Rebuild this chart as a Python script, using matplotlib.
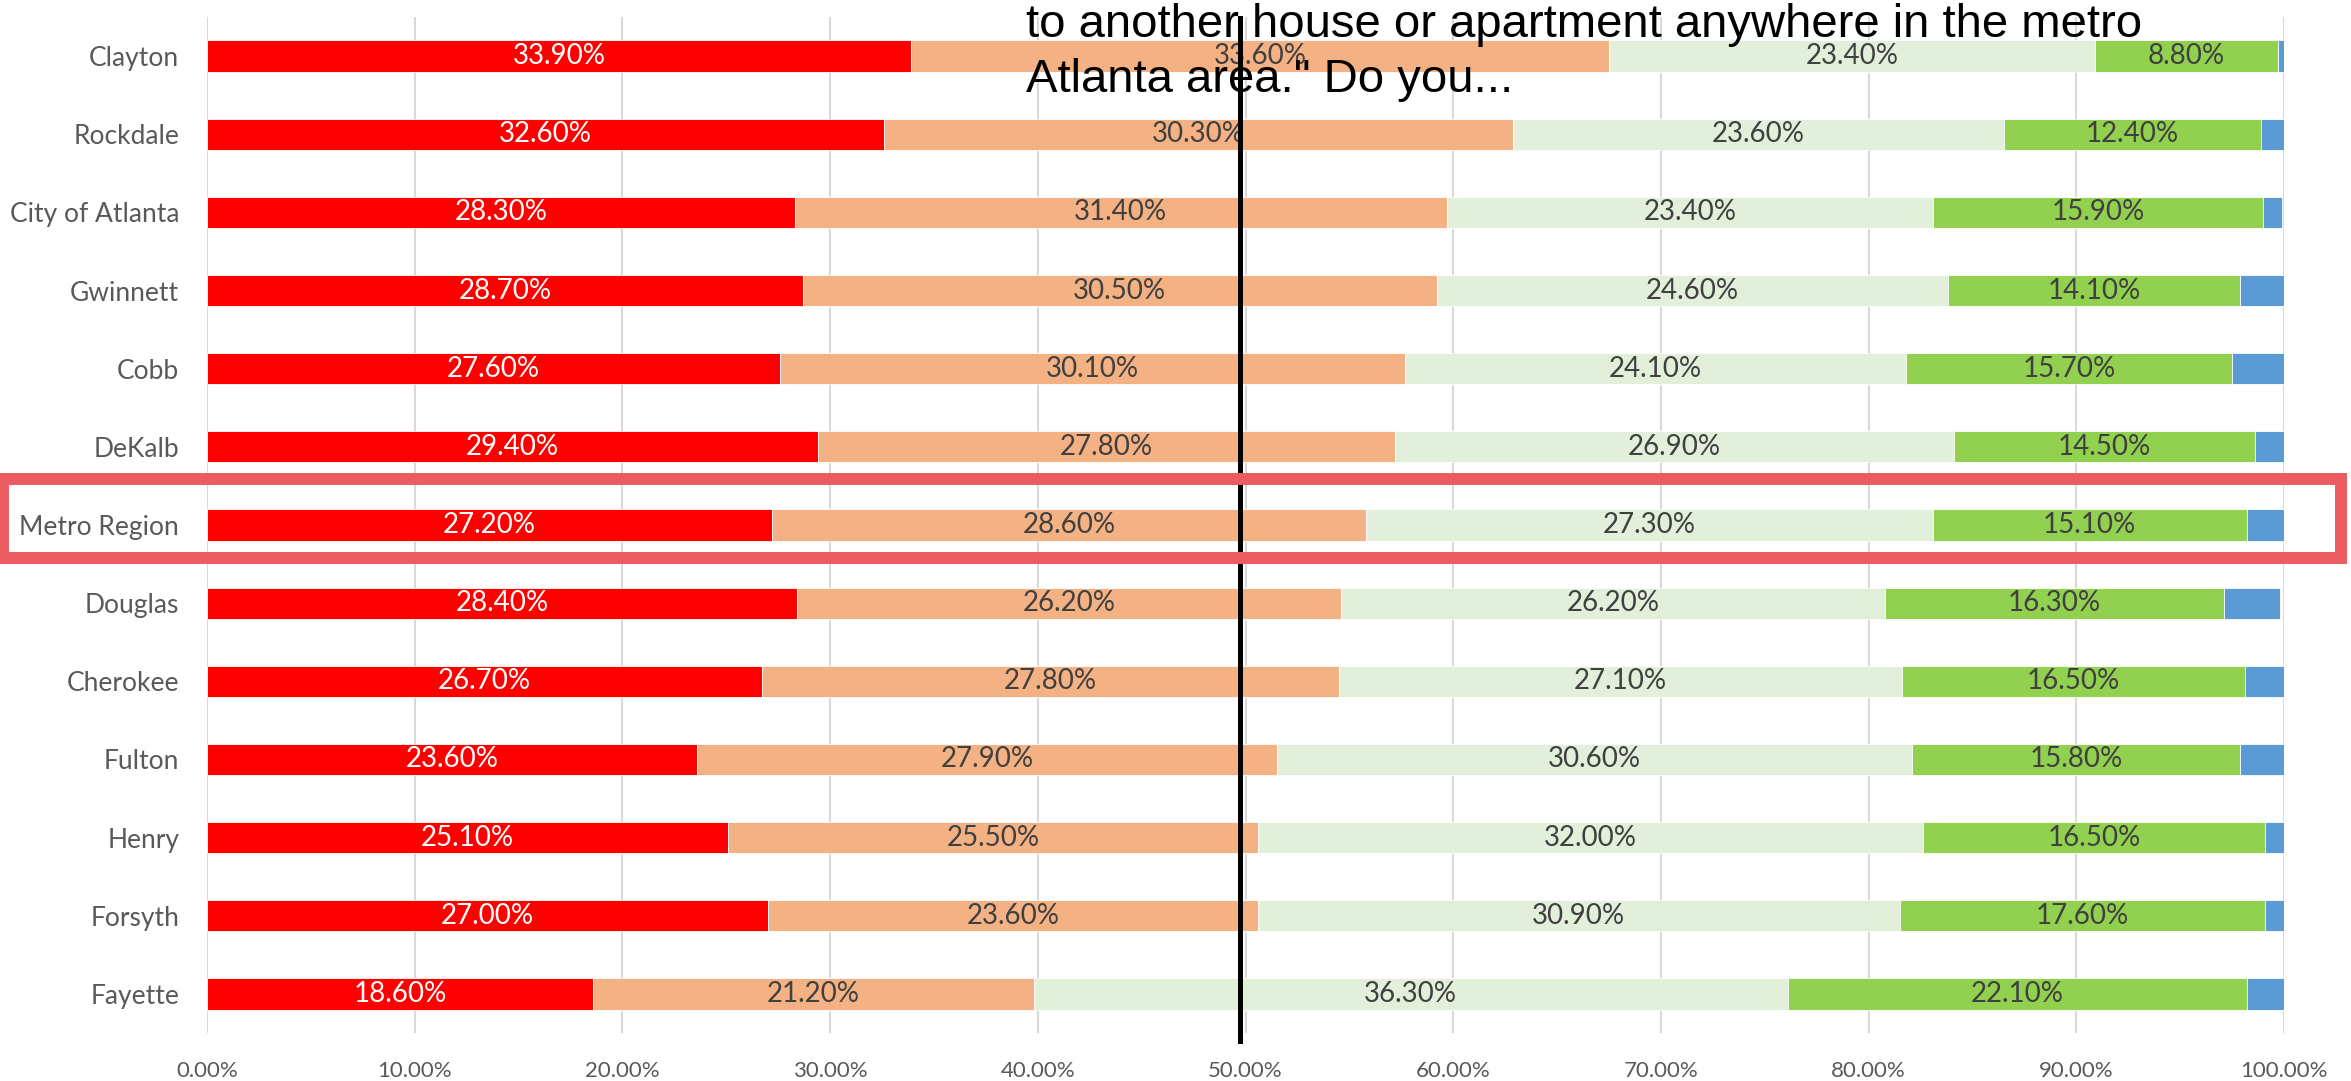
import matplotlib
matplotlib.use("Agg")
import matplotlib.pyplot as plt
from matplotlib.patches import Rectangle

categories = ["Clayton", "Rockdale", "City of Atlanta", "Gwinnett", "Cobb", "DeKalb",
              "Metro Region", "Douglas", "Cherokee", "Fulton", "Henry", "Forsyth", "Fayette"]
s1 = [33.9, 32.6, 28.3, 28.7, 27.6, 29.4, 27.2, 28.4, 26.7, 23.6, 25.1, 27.0, 18.6]
s2 = [33.6, 30.3, 31.4, 30.5, 30.1, 27.8, 28.6, 26.2, 27.8, 27.9, 25.5, 23.6, 21.2]
s3 = [23.4, 23.6, 23.4, 24.6, 24.1, 26.9, 27.3, 26.2, 27.1, 30.6, 32.0, 30.9, 36.3]
s4 = [8.8, 12.4, 15.9, 14.1, 15.7, 14.5, 15.1, 16.3, 16.5, 15.8, 16.5, 17.6, 22.1]
s5 = [0.4, 1.1, 0.9, 2.2, 2.5, 1.4, 1.8, 2.7, 1.9, 2.1, 0.9, 0.9, 1.8]
series = [s1, s2, s3, s4, s5]
colors = ["#FF0000", "#F4B183", "#E2EFDA", "#92D050", "#5B9BD5"]
label_colors = ["white", "#404040", "#404040", "#404040", None]
xticks = [0, 10, 20, 30, 40, 50, 60, 70, 80, 90, 100]
title_lines = ["to another house or apartment anywhere in the metro",
               "Atlanta area.\" Do you..."]

W, H = 2351, 1081
fig = plt.figure(figsize=(W / 100, H / 100), dpi=100)
ax = fig.add_axes([207 / W, 1 - 1033 / H, 2077 / W, 1016 / H])

font = "Lato"
y = list(range(len(categories)))
left = [0.0] * len(categories)
for vals, c, lc in zip(series, colors, label_colors):
    bars = ax.barh(y, vals, left=left, height=0.4, color=c, edgecolor="white",
                   linewidth=0.6, zorder=3)
    if lc is not None:
        for yi, (l, v) in enumerate(zip(left, vals)):
            ax.text(l + v / 2, yi, f"{v:.2f}%", ha="center", va="center",
                    color=lc, fontsize=20, family=font, zorder=4)
    left = [l + v for l, v in zip(left, vals)]

ax.set_xlim(0, 100)
ax.set_ylim(len(categories) - 0.5, -0.5)
ax.set_yticks(y)
ax.set_yticklabels(categories, fontsize=19, color="#595959", family=font)
ax.set_xticks(xticks)
ax.set_xticklabels([f"{t:.2f}%" for t in xticks], fontsize=16, color="#595959", family=font)
ax.tick_params(axis="both", length=0)
ax.tick_params(axis="x", pad=20)
ax.tick_params(axis="y", pad=20)
ax.grid(axis="x", color="#D9D9D9", linewidth=1.5, zorder=0)
ax.set_axisbelow(True)
for sp in ax.spines.values():
    sp.set_visible(False)

# vertical black reference line
ax.axvline(49.75, ymin=-0.008, ymax=0.999, color="black", linewidth=3.6,
           clip_on=False, zorder=6)

# title fragment (cut off at top)
fig.text(1026 / W, 1 - 37 / H, title_lines[0], family="Liberation Sans",
         fontsize=34, color="black", va="baseline", ha="left", zorder=5)
fig.text(1026 / W, 1 - 92 / H, title_lines[1], family="Liberation Sans",
         fontsize=34, color="black", va="baseline", ha="left", zorder=5)

# highlight box around Metro Region
rect = Rectangle((3 / W, 1 - 558 / H), 2338 / W, 79 / H, transform=fig.transFigure,
                 fill=False, edgecolor="#EB5B60", linewidth=8.6, zorder=10)
fig.patches.append(rect)

fig.savefig("out.png", dpi=100)
